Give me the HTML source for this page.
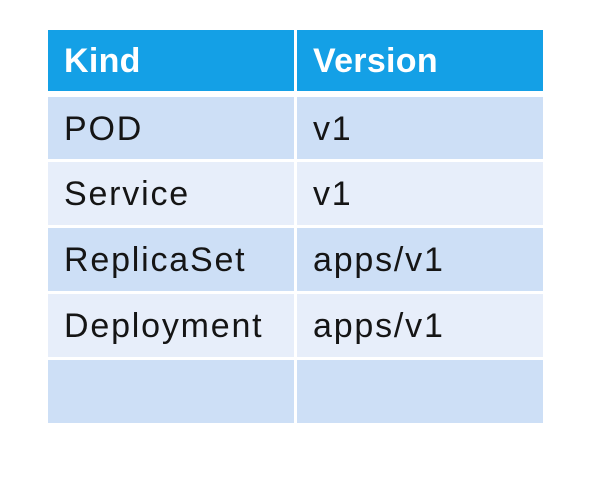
<!DOCTYPE html>
<html><head><style>
body{margin:0;width:616px;height:479px;background:#fff;position:relative;overflow:hidden;font-family:"Liberation Sans",sans-serif;}
.c{position:absolute;box-sizing:border-box;padding-left:16px;padding-top:2px;display:flex;align-items:center;font-size:34px;letter-spacing:1.8px;color:#151515;}
.h{background:#14a0e6;color:#fff;font-weight:bold;font-size:34px;letter-spacing:0.3px;}
.o{background:#cddff6;}
.e{background:#e7eefa;}
</style></head><body>
<div class="c h" style="left:48px;top:30px;width:246px;height:61px;">Kind</div>
<div class="c h" style="left:297px;top:30px;width:246px;height:61px;">Version</div>

<div class="c o" style="left:48px;top:97px;width:246px;height:62px;">POD</div>
<div class="c o" style="left:297px;top:97px;width:246px;height:62px;">v1</div>

<div class="c e" style="left:48px;top:162px;width:246px;height:63px;">Service</div>
<div class="c e" style="left:297px;top:162px;width:246px;height:63px;">v1</div>

<div class="c o" style="left:48px;top:228px;width:246px;height:63px;">ReplicaSet</div>
<div class="c o" style="left:297px;top:228px;width:246px;height:63px;">apps/v1</div>

<div class="c e" style="left:48px;top:294px;width:246px;height:63px;">Deployment</div>
<div class="c e" style="left:297px;top:294px;width:246px;height:63px;">apps/v1</div>

<div class="c o" style="left:48px;top:360px;width:246px;height:63px;"></div>
<div class="c o" style="left:297px;top:360px;width:246px;height:63px;"></div>
</body></html>
